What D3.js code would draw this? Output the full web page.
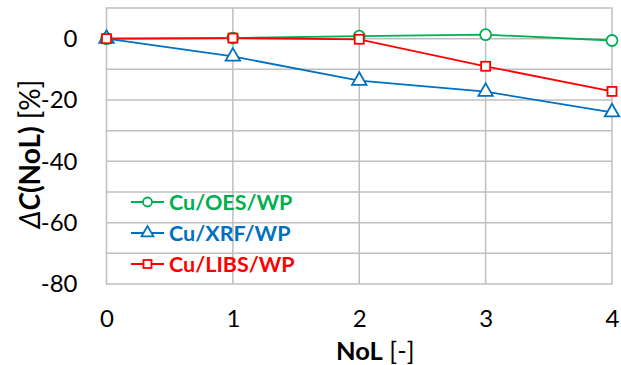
<!DOCTYPE html>
<html><head><meta charset="utf-8">
<script src="https://cdn.jsdelivr.net/npm/d3@7"></script>
<style>body{margin:0;background:#fff;} svg{display:block;font-family:Lato,"Open Sans",sans-serif;}</style>
</head><body>
<script>
const nol = [0, 1, 2, 3, 4];
const oes = [0, 0.2, 0.8, 1.3, -0.6];
const xrf = [0, -5.8, -13.7, -17.3, -24];
const libs = [0, 0.2, -0.2, -9, -17.2];
const yTicks = [0, -20, -40, -60, -80];
const seriesNames = ["Cu/OES/WP", "Cu/XRF/WP", "Cu/LIBS/WP"];
const colors = ["#00B050", "#0070C0", "#FF0000"];
const shapes = ["circle", "triangle", "square"];

const W = 621, H = 365;
const m = {left: 106.5, right: 9, top: 8, bottom: 81};
const svg = d3.select("body").append("svg").attr("width", W).attr("height", H);
const x = d3.scaleLinear().domain([0, 4]).range([m.left, W - m.right]);
const y = d3.scaleLinear().domain([-80, 10]).range([H - m.bottom, m.top]);

const grid = "#BFBFBF";
svg.append("g").selectAll("line").data(d3.range(-70, 10, 10)).join("line")
  .attr("x1", x(0)).attr("x2", x(4)).attr("y1", d => y(d)).attr("y2", d => y(d))
  .attr("stroke", grid).attr("stroke-width", 1.5);
svg.append("g").selectAll("line").data([1, 2, 3]).join("line")
  .attr("y1", y(10)).attr("y2", y(-80)).attr("x1", d => x(d)).attr("x2", d => x(d))
  .attr("stroke", grid).attr("stroke-width", 1.5);
svg.append("rect").attr("x", x(0)).attr("y", y(10)).attr("width", x(4) - x(0)).attr("height", y(-80) - y(10))
  .attr("fill", "none").attr("stroke", grid).attr("stroke-width", 1.5);

const fmt = d => String(d);
const yAxis = d3.axisLeft(y).tickValues(yTicks).tickFormat(fmt).tickSize(0).tickPadding(29);
const gy = svg.append("g").attr("transform", `translate(${x(0)},0)`).call(yAxis);
gy.select(".domain").remove();
gy.selectAll("text").attr("font-size", 24).attr("fill", "#000").attr("font-family", "Lato,sans-serif");
const xAxis = d3.axisBottom(x).tickValues(nol).tickFormat(fmt).tickSize(0).tickPadding(26);
const gx = svg.append("g").attr("transform", `translate(0,${y(-80)})`).call(xAxis);
gx.select(".domain").remove();
gx.selectAll("text").attr("font-size", 24).attr("fill", "#000").attr("font-family", "Lato,sans-serif");

const xt = svg.append("text").attr("x", (x(0) + x(4)) / 2 + 16).attr("y", 360).attr("text-anchor", "middle").attr("font-size", 25.5);
xt.append("tspan").attr("font-weight", "bold").text("NoL");
xt.append("tspan").text(" [-]");
const yt = svg.append("text").attr("transform", `translate(40,154) rotate(-90)`).attr("text-anchor", "middle").attr("font-size", 28);
yt.append("tspan").attr("font-style", "italic").text("Δ");
yt.append("tspan").attr("font-weight", "bold").attr("font-style", "italic").text("C");
yt.append("tspan").attr("font-weight", "bold").text("(NoL)");
yt.append("tspan").text(" [%]");

function marker(g, shape, color, size) {
  if (shape === "circle") g.append("circle").attr("r", size).attr("fill", "#fff").attr("stroke", color).attr("stroke-width", 1.8);
  else if (shape === "square") g.append("rect").attr("x", -size).attr("y", -size).attr("width", 2 * size).attr("height", 2 * size).attr("fill", "#fff").attr("stroke", color).attr("stroke-width", 1.8);
  else g.append("path").attr("d", d3.symbol(d3.symbolTriangle, size * size * 3)).attr("fill", "#fff").attr("stroke", color).attr("stroke-width", 1.8);
}

const allData = [oes, xrf, libs];
const line = d3.line().x((d, i) => x(nol[i])).y(d => y(d));
allData.forEach((vals, k) => {
  svg.append("path").datum(vals).attr("d", line).attr("fill", "none").attr("stroke", colors[k]).attr("stroke-width", 1.8);
});
allData.forEach((vals, k) => {
  vals.forEach((v, i) => {
    const g = svg.append("g").attr("transform", `translate(${x(nol[i])},${y(v)})`);
    marker(g, shapes[k], colors[k], k === 2 ? 4.5 : 5.5);
  });
});

const leg = svg.append("g");
seriesNames.forEach((n, k) => {
  const yy = 202 + k * 31;
  leg.append("line").attr("x1", 131).attr("x2", 164).attr("y1", yy).attr("y2", yy).attr("stroke", colors[k]).attr("stroke-width", 1.8);
  const g = leg.append("g").attr("transform", `translate(147.5,${yy})`);
  marker(g, shapes[k], colors[k], k === 2 ? 4 : 4.5);
  leg.append("text").attr("x", 169).attr("y", yy + 7.5).attr("font-size", 21.5).attr("font-weight", "bold").attr("fill", colors[k]).text(n);
});
</script>
</body></html>
